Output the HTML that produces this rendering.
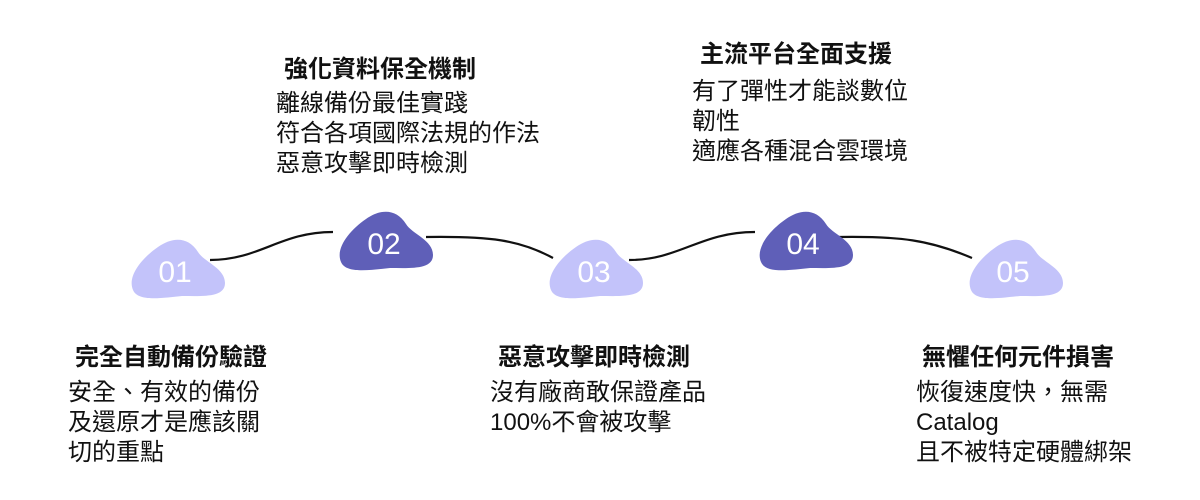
<!DOCTYPE html>
<html><head><meta charset="utf-8"><style>
body{margin:0;width:1200px;height:500px;background:#fff;position:relative;overflow:hidden;font-family:"Liberation Sans","Noto Sans CJK TC",sans-serif;}
.t{position:absolute;font-size:24px;line-height:30px;color:#111;white-space:nowrap;}
.h{font-weight:bold;}
svg{position:absolute;left:0;top:0;}
</style></head><body>
<svg width="1200" height="500" viewBox="0 0 1200 500">
<defs>
<path id="b" d="M3,52 C-3,38 12,20 28,9 C42,-1 58,-2 68,14 C74,24 95,30 95,45 C95,60 72,58 52,58 C32,60 8,64 3,52 Z"/>
</defs>
<g fill="none" stroke="#111" stroke-width="2.2">
<path d="M210,260 C260,260 280,232 333,232"/>
<path d="M426,237 C490,236 520,240 553,258"/>
<path d="M629,260 C680,260 700,232 755,232"/>
<path d="M838,237 C900,236 930,240 972,258"/>
</g>
<use href="#b" x="130" y="238" fill="#c3c3fa"/>
<use href="#b" x="338" y="210" fill="#5f5fb8"/>
<use href="#b" x="548" y="238" fill="#c3c3fa"/>
<use href="#b" x="758" y="210" fill="#5f5fb8"/>
<use href="#b" x="968" y="238" fill="#c3c3fa"/>
<g fill="#fff" font-family="Liberation Sans, sans-serif" font-size="30" text-anchor="middle">
<text x="175" y="282">01</text>
<text x="384" y="254">02</text>
<text x="594" y="282">03</text>
<text x="803" y="254">04</text>
<text x="1013" y="282">05</text>
</g>
</svg>
<div class="t h" style="left:75px;top:343px">完全自動備份驗證</div>
<div class="t" style="left:68px;top:378px">安全、有效的備份<br>及還原才是應該關<br>切的重點</div>
<div class="t h" style="left:284px;top:55px">強化資料保全機制</div>
<div class="t" style="left:276px;top:89px">離線備份最佳實踐<br>符合各項國際法規的作法<br>惡意攻擊即時檢測</div>
<div class="t h" style="left:498px;top:343px">惡意攻擊即時檢測</div>
<div class="t" style="left:490px;top:378px">沒有廠商敢保證產品<br>100%不會被攻擊</div>
<div class="t h" style="left:700px;top:40px">主流平台全面支援</div>
<div class="t" style="left:692px;top:77px">有了彈性才能談數位<br>韌性<br>適應各種混合雲環境</div>
<div class="t h" style="left:922px;top:343px">無懼任何元件損害</div>
<div class="t" style="left:916px;top:378px">恢復速度快，無需<br>Catalog<br>且不被特定硬體綁架</div>
</body></html>
